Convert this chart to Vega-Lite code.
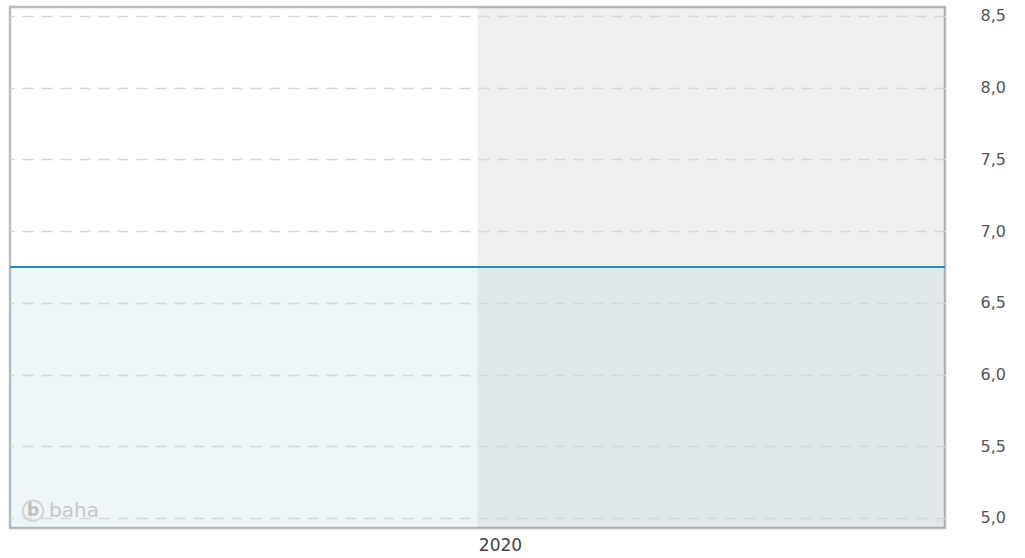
{
  "$schema": "https://vega.github.io/schema/vega-lite/v6.json",
  "width": 935,
  "height": 521,
  "autosize": "none",
  "padding": {"left": 10, "top": 7, "right": 80, "bottom": 30},
  "background": "white",
  "config": {
    "view": {"stroke": "#bcbcbc", "strokeWidth": 2.5},
    "font": "DejaVu Sans"
  },
  "datasets": {
    "series": [
      {"t": 0, "value": 6.75, "base": 4.93},
      {"t": 1, "value": 6.75, "base": 4.93}
    ],
    "shade": [{"start": 0.5, "end": 1}],
    "mark": [{"t": 0.0246, "y": 5.05, "logo": "b", "name": "baha", "tx": 0.0418}]
  },
  "layer": [
    {
      "data": {"name": "shade"},
      "mark": {"type": "rect", "color": "#000000", "opacity": 0.06},
      "encoding": {
        "x": {"field": "start", "type": "quantitative", "scale": {"domain": [0, 1], "nice": false, "zero": false},
          "axis": {"values": [0.524], "labelExpr": "'2020'", "title": null, "domain": false, "ticks": false, "grid": false, "labelFont": "DejaVu Sans", "labelFontSize": 17, "labelColor": "#444444", "labelPadding": 9}},
        "x2": {"field": "end"}
      }
    },
    {
      "data": {"name": "series"},
      "mark": {"type": "area", "color": "#2a8ab8", "opacity": 0.08},
      "encoding": {
        "x": {"field": "t", "type": "quantitative"},
        "y": {"field": "value", "type": "quantitative", "scale": {"domain": [4.93, 8.562], "nice": false, "zero": false},
          "axis": {"orient": "right", "values": [5, 5.5, 6, 6.5, 7, 7.5, 8, 8.5], "labelExpr": "replace(format(datum.value, '.1f'), '.', ',')", "title": null, "domain": false, "ticks": false, "grid": true, "gridColor": "#d8d8d8", "gridDash": [11, 8], "gridWidth": 1.6, "zindex": 1, "labelFont": "DejaVu Sans", "labelFontSize": 16, "labelColor": "#555555", "labelAlign": "left", "labelPadding": 35}},
        "y2": {"field": "base"}
      }
    },
    {
      "data": {"name": "series"},
      "mark": {"type": "line", "color": "#2a8ab8", "strokeWidth": 2},
      "encoding": {
        "x": {"field": "t", "type": "quantitative"},
        "y": {"field": "value", "type": "quantitative"}
      }
    },
    {
      "data": {"name": "mark"},
      "mark": {"type": "point", "shape": "circle", "filled": false, "stroke": "#c8c8c8", "strokeWidth": 2, "size": 420},
      "encoding": {
        "x": {"field": "t", "type": "quantitative"},
        "y": {"field": "y", "type": "quantitative"}
      }
    },
    {
      "data": {"name": "mark"},
      "mark": {"type": "text", "color": "#c0c0c0", "fontSize": 17, "fontWeight": "bold", "font": "DejaVu Sans", "baseline": "middle", "align": "center"},
      "encoding": {
        "x": {"field": "t", "type": "quantitative"},
        "y": {"field": "y", "type": "quantitative"},
        "text": {"field": "logo"}
      }
    },
    {
      "data": {"name": "mark"},
      "mark": {"type": "text", "color": "#c8c8c8", "fontSize": 20, "font": "DejaVu Sans", "baseline": "middle", "align": "left"},
      "encoding": {
        "x": {"field": "tx", "type": "quantitative"},
        "y": {"field": "y", "type": "quantitative"},
        "text": {"field": "name"}
      }
    }
  ]
}
